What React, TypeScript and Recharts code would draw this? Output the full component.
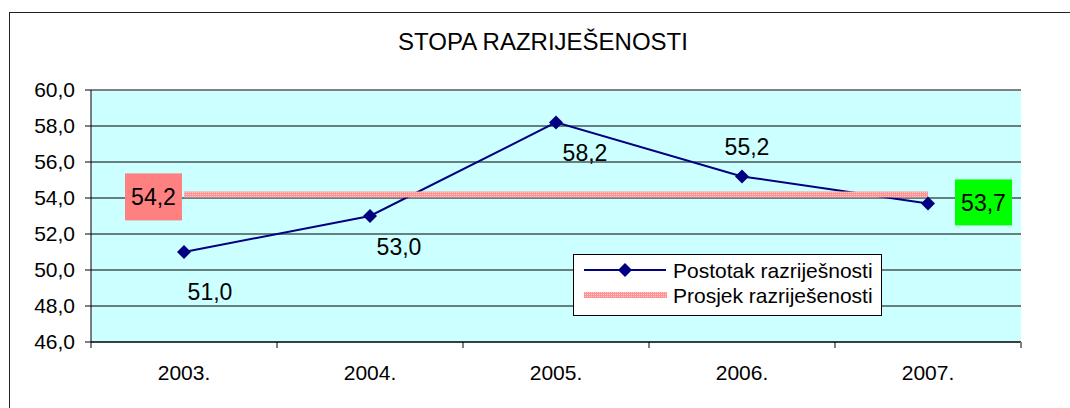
import { LineChart, Line, XAxis, YAxis, CartesianGrid, Legend, LabelList, ReferenceLine } from 'recharts';

const years = ['2003.', '2004.', '2005.', '2006.', '2007.'];
const resolutionRate = [51.0, 53.0, 58.2, 55.2, 53.7];
const averageRate = [54.2, 54.2, 54.2, 54.2, 54.2];
const yTicks = [46, 48, 50, 52, 54, 56, 58, 60];

const data = years.map((year, i) => ({ year, rate: resolutionRate[i], avg: averageRate[i] }));

const W = 1070;
const H = 408;
const PLOT_LEFT = 91;
const PLOT_RIGHT = 1021;
const PLOT_BOTTOM = 342;
const HALF_BAND = (PLOT_RIGHT - PLOT_LEFT) / years.length / 2;
const FONT = '"Liberation Sans", Arial, sans-serif';
const NAVY = '#000080';

const fmt = (v: number) => Number(v).toFixed(1).replace('.', ',');

// label placement around each point of the rate series (dx, dy of text centre)
const rateLabelOffsets = [
  [26, 40],
  [29, 31],
  [29, 30],
  [5, -30],
];

function Diamond({ cx, cy }: any) {
  if (cx == null || cy == null) return null;
  return <polygon points={`${cx},${cy - 7} ${cx + 7},${cy} ${cx},${cy + 7} ${cx - 7},${cy}`} fill={NAVY} />;
}

function RateLabel(props: any) {
  const x = props.x ?? props.viewBox?.x;
  const y = props.y ?? props.viewBox?.y;
  const { value, index } = props;
  if (index === years.length - 1) {
    return (
      <g>
        <rect x={x + 27} y={y - 24} width={57} height={46} fill="#00FF00" />
        <text x={x + 55.5} y={y - 1} dy="0.36em" textAnchor="middle" fill="#000" fontSize={23} fontFamily={FONT}>
          {fmt(value)}
        </text>
      </g>
    );
  }
  const [dx, dy] = rateLabelOffsets[index];
  return (
    <text x={x + dx} y={y + dy} dy="0.36em" textAnchor="middle" fill="#000" fontSize={23} fontFamily={FONT}>
      {fmt(value)}
    </text>
  );
}

function AvgLabel(props: any) {
  const x = props.x ?? props.viewBox?.x;
  const y = props.y ?? props.viewBox?.y;
  if (props.index !== 0) return null;
  return (
    <g>
      <rect x={x - 59} y={y - 21} width={57} height={47} fill="#FF8080" />
      <text x={x - 30.5} y={y + 2} dy="0.36em" textAnchor="middle" fill="#000" fontSize={23} fontFamily={FONT}>
        {fmt(props.value)}
      </text>
    </g>
  );
}

function XTick({ x, payload, index }: any) {
  const last = index === years.length - 1;
  return (
    <g>
      <line x1={x - HALF_BAND} x2={x - HALF_BAND} y1={PLOT_BOTTOM} y2={PLOT_BOTTOM + 6} stroke="#000" />
      {last && (
        <line x1={x + HALF_BAND} x2={x + HALF_BAND} y1={PLOT_BOTTOM} y2={PLOT_BOTTOM + 6} stroke="#808080" strokeWidth={2} />
      )}
      <text x={x} y={PLOT_BOTTOM + 38} textAnchor="middle" fill="#000" fontSize={21} fontFamily={FONT}>
        {payload.value}
      </text>
    </g>
  );
}

function LegendBox() {
  return (
    <svg width={309} height={62} style={{ display: 'block' }}>
      <rect x={0.5} y={0.5} width={308} height={61} fill="#fff" stroke="#000" />
      <line x1={11} x2={93} y1={16} y2={16} stroke={NAVY} strokeWidth={2} />
      <Diamond cx={52} cy={16} />
      <text x={100} y={16} dy="0.36em" fill="#000" fontSize={21} fontFamily={FONT}>
        Postotak razriješnosti
      </text>
      <line x1={11} x2={94} y1={41} y2={41} stroke="url(#pinkDots)" strokeWidth={6} />
      <text x={100} y={41} dy="0.36em" fill="#000" fontSize={21} fontFamily={FONT}>
        Prosjek razriješenosti
      </text>
    </svg>
  );
}

export default function App() {
  return (
    <div style={{ position: 'fixed', left: 0, top: 0, width: W, height: H, overflow: 'hidden', background: '#fff' }}>
      <svg width={0} height={0} style={{ position: 'absolute' }}>
        <defs>
          <pattern id="pinkDots" width="2" height="2" patternUnits="userSpaceOnUse">
            <rect width="2" height="2" fill="#FF9494" />
            <rect width="1" height="1" fill="#FFC4C4" />
          </pattern>
        </defs>
      </svg>
      <div
        style={{
          position: 'absolute',
          left: 9,
          top: 12,
          width: W + 20,
          height: H + 20,
          borderLeft: '1px solid #222',
          borderTop: '1px solid #222',
        }}
      />
      <div
        style={{
          position: 'absolute',
          left: 0,
          top: 30,
          width: 1086,
          textAlign: 'center',
          fontFamily: FONT,
          fontSize: 24,
          lineHeight: '24px',
          color: '#000',
        }}
      >
        STOPA RAZRIJEŠENOSTI
      </div>
      <div style={{ position: 'absolute', left: 0, top: 0 }}>
        <LineChart width={W} height={H} data={data} margin={{ top: 90, right: W - PLOT_RIGHT, bottom: 16, left: 0 }}>
          <CartesianGrid vertical={false} stroke="#000" fill="#CCFFFF" fillOpacity={1} />
          <XAxis
            dataKey="year"
            padding={{ left: HALF_BAND, right: HALF_BAND }}
            height={50}
            interval={0}
            tickLine={false}
            axisLine={{ stroke: '#000' }}
            tick={<XTick />}
          />
          <YAxis
            domain={[46, 60]}
            ticks={yTicks}
            interval={0}
            width={PLOT_LEFT}
            tickFormatter={fmt}
            tickSize={6}
            tickMargin={10}
            axisLine={{ stroke: '#000' }}
            tickLine={{ stroke: '#000' }}
            tick={{ fill: '#000', fontSize: 21, fontFamily: FONT }}
          />
          <YAxis
            yAxisId="right"
            orientation="right"
            width={0}
            domain={[46, 60]}
            tick={false}
            tickLine={false}
            axisLine={{ stroke: '#808080', strokeWidth: 2 }}
          />
          <ReferenceLine y={60} stroke="#808080" strokeWidth={2} />
          <Legend
            layout="horizontal"
            verticalAlign="middle"
            align="center"
            content={() => <LegendBox />}
            wrapperStyle={{ left: 573, top: 254, width: 309, height: 62, margin: 0 }}
          />
          <Line
            dataKey="rate"
            name="Postotak razriješnosti"
            stroke={NAVY}
            strokeWidth={2}
            dot={(p: any) => <Diamond key={p.index} cx={p.cx} cy={p.cy} />}
            activeDot={false}
            isAnimationActive={false}
          >
            <LabelList dataKey="rate" content={<RateLabel />} />
          </Line>
          <Line
            dataKey="avg"
            name="Prosjek razriješenosti"
            stroke="url(#pinkDots)"
            strokeWidth={6}
            dot={false}
            activeDot={false}
            isAnimationActive={false}
          >
            <LabelList dataKey="avg" content={<AvgLabel />} />
          </Line>
        </LineChart>
      </div>
    </div>
  );
}
